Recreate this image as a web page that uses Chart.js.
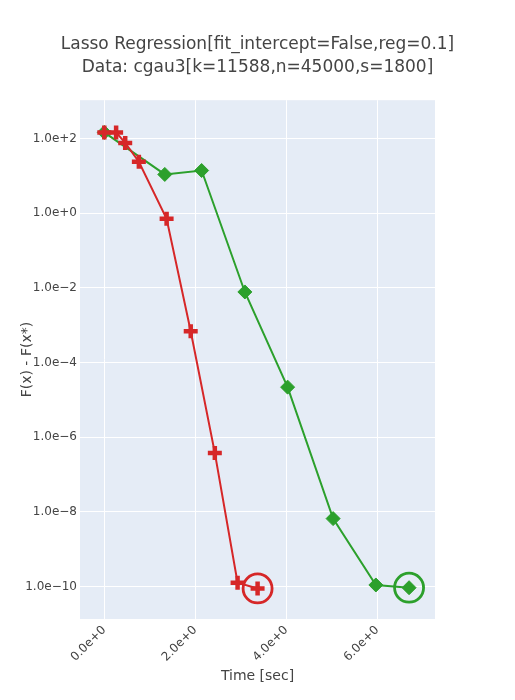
<!DOCTYPE html>
<html>
<head>
<meta charset="utf-8">
<script src="https://cdn.jsdelivr.net/npm/chart.js@4"></script>
<style>
  html, body { margin: 0; padding: 0; background: #fff; }
  canvas { display: block; }
</style>
</head>
<body>
<canvas id="chart" width="515" height="700"></canvas>
<script>
// values
const redTime = [0.0, 0.26, 0.46, 0.76, 1.37, 1.9, 2.43, 2.93, 3.37];
const redGap = [147, 147, 77, 24, 0.71, 6.9e-4, 3.8e-7, 1.26e-10, 8.9e-11];
const greenTime = [0.0, 1.33, 2.14, 3.09, 4.03, 5.03, 5.97, 6.7];
const greenGap = [147, 11, 14, 7.8e-3, 2.2e-5, 6.6e-9, 1.1e-10, 9.3e-11];

const xTickValues = [0, 2, 4, 6];
const xTickLabels = ['0.0e+0', '2.0e+0', '4.0e+0', '6.0e+0'];
const yTickValues = [1e2, 1e0, 1e-2, 1e-4, 1e-6, 1e-8, 1e-10];
const yTickLabels = ['1.0e+2', '1.0e+0', '1.0e\u22122', '1.0e\u22124', '1.0e\u22126', '1.0e\u22128', '1.0e\u221210'];

const RED = '#d62728';
const GREEN = '#2ca02c';
const TEXT = '#444';
const FONT = '"DejaVu Sans", Verdana, sans-serif';

function toPoints(xs, ys) {
    return xs.map((x, i) => ({ x: x, y: ys[i] }));
}
function lastPoint(xs, ys) {
    return [{ x: xs[xs.length - 1], y: ys[ys.length - 1] }];
}

// plotly style plot background
const plotBg = {
    id: 'plotBg',
    beforeDraw(chart) {
        const a = chart.chartArea;
        const ctx = chart.ctx;
        ctx.save();
        ctx.fillStyle = '#e5ecf6';
        ctx.fillRect(a.left, a.top, a.right - a.left, a.bottom - a.top);
        ctx.restore();
    }
};

const ctx = document.getElementById('chart').getContext('2d');
new Chart(ctx, {
    type: 'scatter',
    data: {
        datasets: [
            {
                label: 'red',
                data: toPoints(redTime, redGap),
                showLine: true,
                borderColor: RED,
                backgroundColor: RED,
                borderWidth: 2,
                pointStyle: 'cross',
                pointRadius: 7,
                pointBorderWidth: 4.5,
                order: 1
            },
            {
                label: 'red last',
                data: lastPoint(redTime, redGap),
                showLine: false,
                borderColor: RED,
                backgroundColor: 'rgba(0,0,0,0)',
                pointStyle: 'circle',
                pointRadius: 14.5,
                pointBorderWidth: 2.8,
                order: 1
            },
            {
                label: 'green',
                data: toPoints(greenTime, greenGap),
                showLine: true,
                borderColor: GREEN,
                backgroundColor: GREEN,
                borderWidth: 2,
                pointStyle: 'rectRot',
                pointRadius: 7,
                pointBorderWidth: 1,
                order: 2
            },
            {
                label: 'green last',
                data: lastPoint(greenTime, greenGap),
                showLine: false,
                borderColor: GREEN,
                backgroundColor: 'rgba(0,0,0,0)',
                pointStyle: 'circle',
                pointRadius: 14.5,
                pointBorderWidth: 2.8,
                order: 2
            }
        ]
    },
    options: {
        responsive: false,
        animation: false,
        events: [],
        layout: { padding: 0 },
        plugins: {
            legend: { display: false },
            tooltip: { enabled: false },
            title: {
                display: true,
                text: ['Lasso Regression[fit_intercept=False,reg=0.1]', 'Data: cgau3[k=11588,n=45000,s=1800]'],
                color: TEXT,
                font: { family: FONT, size: 17, weight: 'normal', lineHeight: 1.3 },
                padding: { top: 34, bottom: 22 }
            }
        },
        scales: {
            x: {
                type: 'linear',
                min: -0.534,
                max: 7.27,
                afterBuildTicks(axis) {
                    axis.ticks = xTickValues.map(v => ({ value: v }));
                },
                afterFit(axis) { axis.height = 81; },
                ticks: {
                    color: TEXT,
                    font: { family: FONT, size: 12 },
                    minRotation: 45,
                    maxRotation: 45,
                    padding: 4,
                    callback(value) {
                        const i = xTickValues.indexOf(value);
                        return i >= 0 ? xTickLabels[i] : '';
                    }
                },
                grid: { color: '#ffffff', lineWidth: 1, drawTicks: false },
                border: { display: false },
                title: {
                    display: true,
                    text: 'Time [sec]',
                    color: TEXT,
                    font: { family: FONT, size: 14 },
                    padding: { top: 4, bottom: 15 }
                }
            },
            y: {
                type: 'logarithmic',
                min: Math.pow(10, -10.87),
                max: Math.pow(10, 3.03),
                afterBuildTicks(axis) {
                    axis.ticks = yTickValues.map(v => ({ value: v }));
                },
                afterFit(axis) { axis.width = 80; },
                ticks: {
                    color: TEXT,
                    font: { family: FONT, size: 12 },
                    padding: 3,
                    callback(value) {
                        const i = yTickValues.findIndex(v => Math.abs(Math.log10(v) - Math.log10(value)) < 1e-6);
                        return i >= 0 ? yTickLabels[i] : '';
                    }
                },
                grid: { color: '#ffffff', lineWidth: 1, drawTicks: false },
                border: { display: false },
                title: {
                    display: true,
                    text: 'F(x) - F(x*)',
                    color: TEXT,
                    font: { family: FONT, size: 14 },
                    padding: { top: 19, bottom: 4 }
                }
            },
            // empty right margin, keeps the title centred on the page
            yRight: {
                type: 'linear',
                position: 'right',
                display: true,
                afterFit(axis) { axis.width = 80; },
                ticks: { display: false },
                grid: { display: false, drawTicks: false },
                border: { display: false }
            }
        }
    },
    plugins: [plotBg]
});
</script>
</body>
</html>
